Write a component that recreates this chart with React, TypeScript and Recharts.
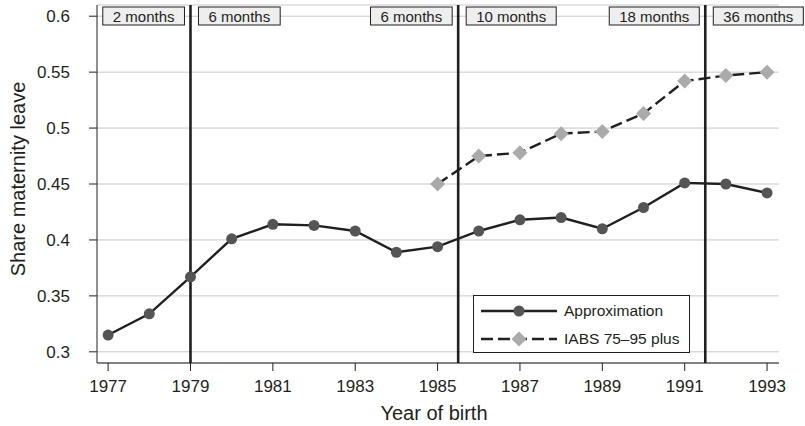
import React from 'react';
import { LineChart, Line, XAxis, YAxis, CartesianGrid, ReferenceLine, Legend, Label } from 'recharts';

const years = [1977, 1978, 1979, 1980, 1981, 1982, 1983, 1984, 1985, 1986, 1987, 1988, 1989, 1990, 1991, 1992, 1993];
const approximation = [0.315, 0.334, 0.367, 0.401, 0.414, 0.413, 0.408, 0.389, 0.394, 0.408, 0.418, 0.420, 0.410, 0.429, 0.451, 0.450, 0.442];
const iabs = [null, null, null, null, null, null, null, null, 0.450, 0.475, 0.478, 0.495, 0.497, 0.513, 0.542, 0.547, 0.550];

const xTicks = [1977, 1979, 1981, 1983, 1985, 1987, 1989, 1991, 1993];
const yTicks = [0.3, 0.35, 0.4, 0.45, 0.5, 0.55, 0.6];

// reform cut-offs and the leave length on either side
const reforms = [1979, 1985.5, 1991.5];
const leaveBoxes = [
  { x: 1979, side: 'left', text: '2 months' },
  { x: 1979, side: 'right', text: '6 months' },
  { x: 1985.5, side: 'left', text: '6 months' },
  { x: 1985.5, side: 'right', text: '10 months' },
  { x: 1991.5, side: 'left', text: '18 months' },
  { x: 1991.5, side: 'right', text: '36 months' },
];

const data = years.map((year, i) => ({
  year,
  approximation: approximation[i],
  iabs: iabs[i],
}));

const FONT = 'Liberation Sans, Arial, Helvetica, sans-serif';
const INK = '#231f20';
const DASH = '12 5';

let ctx: CanvasRenderingContext2D | null = null;
function textWidth(text: string, size: number) {
  if (!ctx) ctx = document.createElement('canvas').getContext('2d');
  if (!ctx) return text.length * size * 0.55;
  ctx.font = `${size}px ${FONT}`;
  return ctx.measureText(text).width;
}

const Diamond = (props: any) => {
  const { cx, cy } = props;
  if (cx == null || cy == null || props.value == null) return null;
  const r = 7.5;
  return <polygon points={`${cx},${cy - r} ${cx + r},${cy} ${cx},${cy + r} ${cx - r},${cy}`} fill="#aaaaaa" />;
};

const BoxLabel = (props: any) => {
  const { viewBox, text, side } = props;
  if (!viewBox) return null;
  const w = textWidth(text, 15) + 20;
  const x = side === 'left' ? viewBox.x - 6 - w : viewBox.x + 8;
  const y = viewBox.y + 2;
  return (
    <g>
      <rect x={x} y={y} width={w} height={18} fill="#eeeeee" stroke={INK} strokeWidth={1} />
      <text x={x + w / 2} y={y + 15} textAnchor="middle" fontSize={15} fontFamily={FONT} fill={INK}>{text}</text>
    </g>
  );
};

const LegendBox = () => (
  <div style={{ width: 215, height: 56, border: `1px solid ${INK}`, background: '#fff', fontFamily: FONT, fontSize: 15, color: INK }}>
    <svg width={215} height={56} style={{ position: 'absolute', left: 1, top: 1 }}>
      <line x1={7} x2={83} y1={15} y2={15} stroke={INK} strokeWidth={2.4} />
      <circle cx={45} cy={15} r={5.5} fill="#555555" />
      <text x={90} y={20} fontSize={15.5} fontFamily={FONT} fill={INK}>Approximation</text>
      <line x1={7} x2={83} y1={43} y2={43} stroke={INK} strokeWidth={2.4} strokeDasharray={DASH} />
      <polygon points="45,35.5 52.5,43 45,50.5 37.5,43" fill="#aaaaaa" />
      <text x={90} y={48} fontSize={15.5} fontFamily={FONT} fill={INK}>IABS 75–95 plus</text>
    </svg>
  </div>
);

export default function App() {
  return (
    <div style={{ position: 'absolute', left: 0, top: 0, background: '#fff' }}>
      <LineChart width={805} height={426} data={data} margin={{ top: 5, right: 26, bottom: 0, left: 0 }}>
        <CartesianGrid horizontal vertical={false} stroke="#c8c8c8" strokeWidth={1} />
        <XAxis
          dataKey="year"
          type="number"
          domain={[1976.73, 1993.29]}
          ticks={xTicks}
          allowDataOverflow
          height={63}
          tickSize={8}
          tickMargin={9}
          stroke={INK}
          tick={{ fill: INK, fontSize: 17, fontFamily: FONT }}
        >
          <Label
            content={(p: any) => (
              <text x={p.viewBox.x + p.viewBox.width / 2 - 4} y={p.viewBox.y + 57} textAnchor="middle" fontSize={20} fontFamily={FONT} fill={INK}>
                Year of birth
              </text>
            )}
          />
        </XAxis>
        <YAxis
          type="number"
          domain={[0.29, 0.61]}
          ticks={yTicks}
          allowDataOverflow
          width={97}
          tickSize={8}
          tickMargin={19}
          stroke={INK}
          tickFormatter={(v: number) => String(v)}
          tick={{ fill: INK, fontSize: 17, fontFamily: FONT }}
        >
          <Label
            content={(p: any) => {
              const cx = 18;
              const cy = p.viewBox.y + p.viewBox.height / 2 - 5;
              return (
                <text x={cx} y={cy} transform={`rotate(-90 ${cx} ${cy})`} textAnchor="middle" dominantBaseline="central" fontSize={20} fontFamily={FONT} fill={INK}>
                  Share maternity leave
                </text>
              );
            }}
          />
        </YAxis>
        {reforms.map((x) => (
          <ReferenceLine key={`r-${x}`} x={x} stroke={INK} strokeWidth={2.6} />
        ))}
        {leaveBoxes.map((b, i) => (
          <ReferenceLine
            key={`b-${i}`}
            x={b.x}
            stroke="none"
            label={(p: any) => <BoxLabel {...p} text={b.text} side={b.side} />}
          />
        ))}
        <Line
          dataKey="approximation"
          stroke={INK}
          strokeWidth={2.4}
          dot={{ r: 5.5, fill: '#555555', stroke: 'none' }}
          isAnimationActive={false}
        />
        <Line
          dataKey="iabs"
          stroke={INK}
          strokeWidth={2.4}
          strokeDasharray={DASH}
          dot={<Diamond />}
          connectNulls={false}
          isAnimationActive={false}
        />
        <Legend
          layout="vertical"
          align="center"
          verticalAlign="middle"
          content={() => <LegendBox />}
          wrapperStyle={{ left: 473, top: 295, width: 217, height: 58 }}
        />
      </LineChart>
    </div>
  );
}
